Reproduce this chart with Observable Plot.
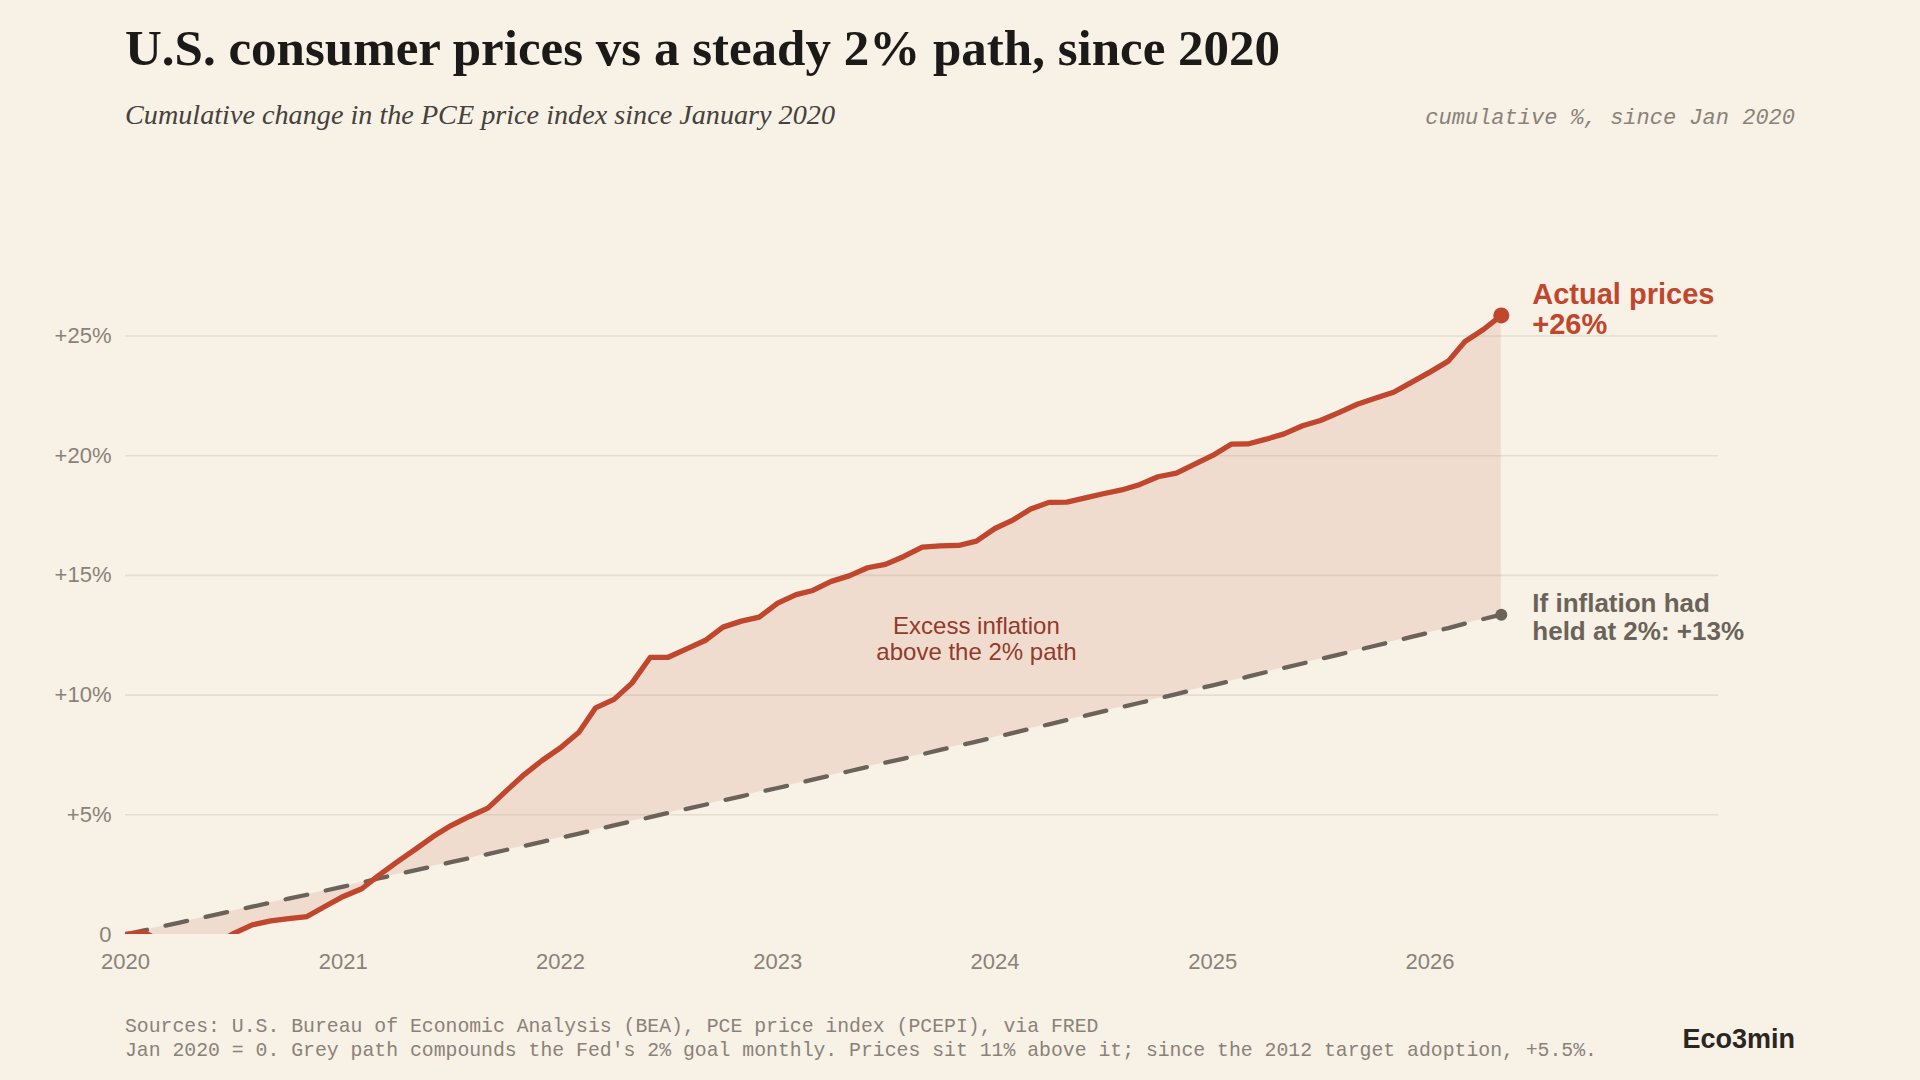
<!DOCTYPE html>
<html>
<head>
<meta charset="utf-8">
<script src="https://cdn.jsdelivr.net/npm/d3@7"></script>
<script src="https://cdn.jsdelivr.net/npm/@observablehq/plot@0.6"></script>
<style>
  html, body { margin: 0; padding: 0; background: #f7f1e6; }
  #page { position: relative; width: 1920px; height: 1080px; overflow: hidden; background: #f7f1e6; }
  .t { position: absolute; white-space: pre; line-height: 1; }
  #title { left: 125px; top: 19px; font: bold 51px "Liberation Serif", serif; color: #1b1a18; }
  #subtitle { left: 125px; top: 98.5px; font: italic 28.2px "Liberation Serif", serif; color: #45413b; }
  #unit { right: 125px; top: 106.4px; font: italic 22px "Liberation Mono", monospace; color: #8a8279; }
  #chart { position: absolute; left: 0; top: 150px; }
  #source { left: 125px; top: 1015px; font: 19.8px "Liberation Mono", monospace; line-height: 24.3px; color: #8a8279; }
  #brand { right: 125px; top: 1023.5px; font: bold 27px "Liberation Sans", sans-serif; color: #2a2622; }
</style>
</head>
<body>
<div id="page">
  <div class="t" id="title">U.S. consumer prices vs a steady 2% path, since 2020</div>
  <div class="t" id="subtitle">Cumulative change in the PCE price index since January 2020</div>
  <div class="t" id="unit">cumulative %, since Jan 2020</div>
  <div id="chart"></div>
  <div class="t" id="source">Sources: U.S. Bureau of Economic Analysis (BEA), PCE price index (PCEPI), via FRED
Jan 2020 = 0. Grey path compounds the Fed's 2% goal monthly. Prices sit 11% above it; since the 2012 target adoption, +5.5%.</div>
  <div class="t" id="brand">Eco3min</div>
</div>
<script>
// Monthly observations, January 2020 through May 2026
const months = d3.utcMonth.range(new Date(Date.UTC(2020, 0, 1)), new Date(Date.UTC(2026, 5, 1)));

// Cumulative change in the PCE price index since Jan 2020, %
const actual = [0, 0.1, -0.3, -0.9, -0.8, -0.4, 0.05, 0.40, 0.57, 0.66, 0.75, 1.17,
  1.59, 1.91, 2.46, 3.02, 3.54, 4.09, 4.55, 4.93, 5.28, 5.98, 6.68, 7.27,
  7.80, 8.45, 9.47, 9.82, 10.50, 11.58, 11.58, 11.93, 12.28, 12.84, 13.09, 13.26,
  13.84, 14.20, 14.37, 14.75, 14.98, 15.32, 15.46, 15.79, 16.18, 16.23, 16.25, 16.43,
  16.96, 17.32, 17.77, 18.05, 18.06, 18.24, 18.41, 18.57, 18.80, 19.12, 19.27, 19.64,
  20.01, 20.48, 20.49, 20.69, 20.91, 21.25, 21.47, 21.80, 22.15, 22.40, 22.65, 23.06,
  23.49, 23.95, 24.77, 25.27, 25.86];

// Cumulative change along a steady 2%-a-year path, %
const steadyPath = [0, 0.17, 0.33, 0.50, 0.66, 0.83, 1.00, 1.16, 1.33, 1.50, 1.66, 1.83,
  2.00, 2.17, 2.34, 2.51, 2.68, 2.85, 3.02, 3.19, 3.36, 3.53, 3.70, 3.87,
  4.04, 4.21, 4.38, 4.56, 4.73, 4.90, 5.08, 5.25, 5.42, 5.60, 5.77, 5.95,
  6.12, 6.30, 6.47, 6.65, 6.82, 7.00, 7.18, 7.35, 7.53, 7.71, 7.89, 8.06,
  8.24, 8.42, 8.60, 8.78, 8.96, 9.14, 9.32, 9.50, 9.68, 9.86, 10.04, 10.23,
  10.41, 10.59, 10.77, 10.96, 11.14, 11.32, 11.51, 11.69, 11.88, 12.06, 12.25, 12.43,
  12.62, 12.80, 12.99, 13.18, 13.36];

// Axis ticks
const yearTicks = [2020, 2021, 2022, 2023, 2024, 2025, 2026];
const pctTicks = [0, 5, 10, 15, 20, 25];

const RED = "#c0462d";
const GREY = "#6b6359";

const rows = months.map((date, i) => ({date, actual: actual[i], path: steadyPath[i]}));
const last = rows[rows.length - 1];

const chart = Plot.plot({
  width: 1920,
  height: 840,
  marginLeft: 125,
  marginRight: 202,
  marginTop: 113.68,
  marginBottom: 56,
  style: {
    background: "transparent",
    fontFamily: "'Liberation Sans', Arial, sans-serif",
    fontSize: "22px",
    color: "#8a8279",
    overflow: "visible"
  },
  x: {
    type: "utc",
    domain: [new Date(Date.UTC(2020, 0, 1)), new Date(Date.UTC(2027, 4, 1))],
    ticks: yearTicks.map(y => new Date(Date.UTC(y, 0, 1))),
    tickFormat: "%Y",
    tickSize: 0,
    tickPadding: 19,
    label: null
  },
  y: {
    domain: [0, 28],
    ticks: pctTicks,
    tickFormat: d => d === 0 ? "0" : `+${d}%`,
    tickSize: 0,
    tickPadding: 14,
    label: null
  },
  marks: [
    Plot.ruleY(pctTicks.filter(d => d > 0), {stroke: "#e6ddcf", strokeWidth: 1.6}),
    // gap between actual prices and the 2% path
    Plot.areaY(rows, {x: "date", y1: "path", y2: "actual", fill: RED, fillOpacity: 0.12, clip: true}),
    Plot.lineY(rows, {x: "date", y: "path", stroke: GREY, strokeWidth: 4.3, strokeDasharray: "22 19", clip: true}),
    Plot.lineY(rows, {x: "date", y: "actual", stroke: RED, strokeWidth: 5.3, strokeLinejoin: "round", clip: true}),
    Plot.dot([last], {x: "date", y: "actual", r: 8, fill: RED}),
    Plot.dot([last], {x: "date", y: "path", r: 6, fill: GREY}),
    Plot.text([last], {
      x: "date", y: "actual",
      text: d => `Actual prices\n+${Math.round(d.actual)}%`,
      dx: 31, dy: -6, textAnchor: "start", lineAnchor: "middle",
      fontSize: 29, fontWeight: "bold", lineHeight: 1.034, fill: RED
    }),
    Plot.text([last], {
      x: "date", y: "path",
      text: d => `If inflation had\nheld at 2%: +${Math.round(d.path)}%`,
      dx: 31, dy: 2, textAnchor: "start", lineAnchor: "middle",
      fontSize: 26, fontWeight: "bold", lineHeight: 1.088, fill: GREY
    }),
    Plot.text([{date: new Date(Date.UTC(2023, 11, 1)), v: 12.35}], {
      x: "date", y: "v",
      text: () => "Excess inflation\nabove the 2% path",
      textAnchor: "middle", lineAnchor: "middle",
      fontSize: 24, lineHeight: 1.08, fill: "#923b2a"
    })
  ]
});

document.getElementById("chart").appendChild(chart);
</script>
</body>
</html>
